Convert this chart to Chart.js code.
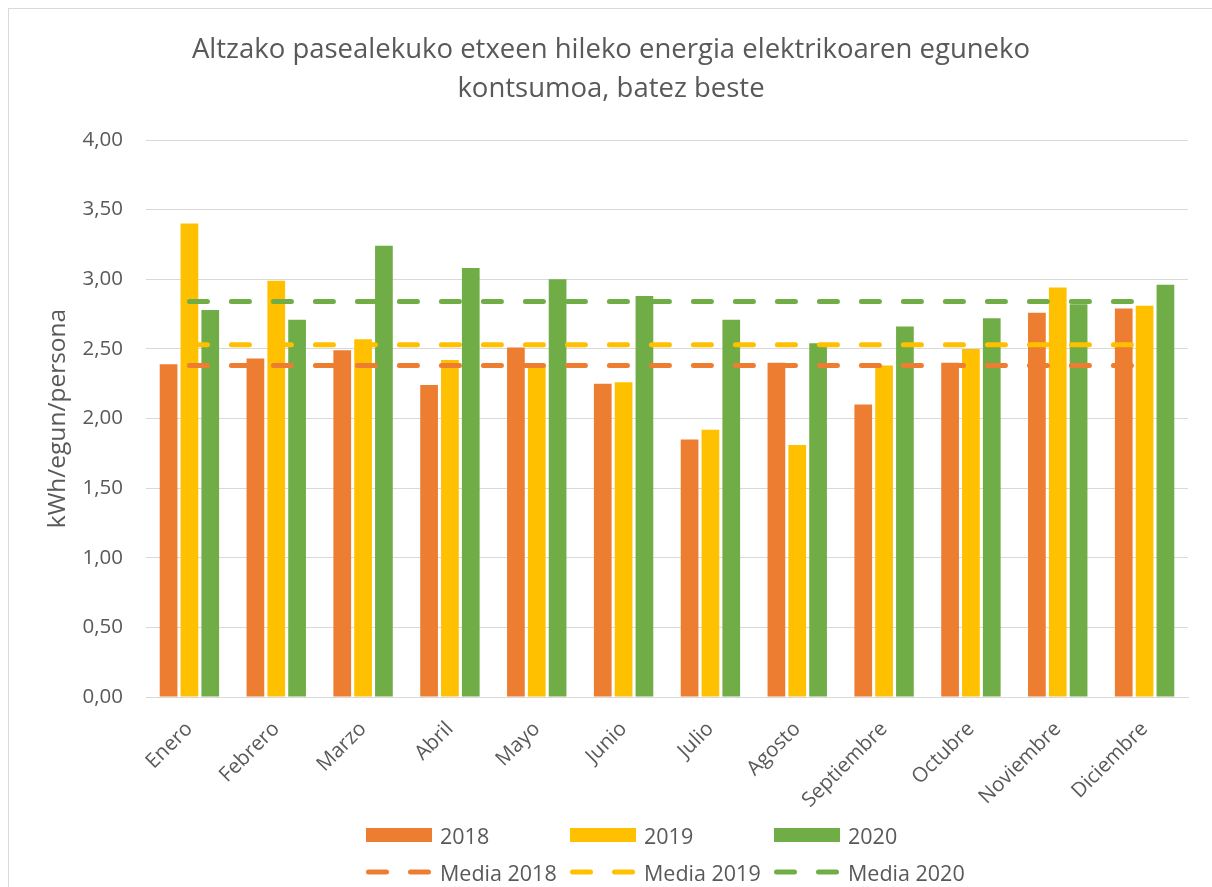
<!DOCTYPE html>
<html>
<head>
<meta charset="utf-8">
<script src="https://cdn.jsdelivr.net/npm/chart.js@4.4.1/dist/chart.umd.min.js"></script>
<style>
    body { margin: 0; background: #fff; width: 1212px; height: 887px; overflow: hidden; position: relative; font-family: "Open Sans", sans-serif; }
    .frame { position: absolute; left: 8px; top: 8px; width: 1300px; height: 1000px; border: 1px solid #d9d9d9; }
    .chart-box { position: absolute; left: 0; top: 0; width: 1212px; height: 887px; }
    .legend { position: absolute; left: 366px; top: 821px; display: grid; grid-template-columns: 204px 204px 204px; row-gap: 9px; }
    .legend-item { display: flex; align-items: center; height: 28px; color: #595959; font-size: 21.5px; }
    .legend-item .swatch { width: 66px; height: 14px; margin-right: 8px; flex: none; }
    .legend-item svg { width: 66px; height: 14px; margin-right: 8px; flex: none; }
</style>
</head>
<body>
<div class="frame"></div>
<div class="chart-box"><canvas id="energyChart"></canvas></div>
<div class="legend" id="legend"></div>

<script>
    // Data
    const months = ['Enero', 'Febrero', 'Marzo', 'Abril', 'Mayo', 'Junio', 'Julio', 'Agosto', 'Septiembre', 'Octubre', 'Noviembre', 'Diciembre'];
    const values2018 = [2.39, 2.43, 2.49, 2.24, 2.51, 2.25, 1.85, 2.40, 2.10, 2.40, 2.76, 2.79];
    const values2019 = [3.40, 2.99, 2.57, 2.42, 2.39, 2.26, 1.92, 1.81, 2.38, 2.50, 2.94, 2.81];
    const values2020 = [2.78, 2.71, 3.24, 3.08, 3.00, 2.88, 2.71, 2.54, 2.66, 2.72, 2.82, 2.96];
    const media2018 = [2.38, 2.38, 2.38, 2.38, 2.38, 2.38, 2.38, 2.38, 2.38, 2.38, 2.38, 2.38];
    const media2019 = [2.53, 2.53, 2.53, 2.53, 2.53, 2.53, 2.53, 2.53, 2.53, 2.53, 2.53, 2.53];
    const media2020 = [2.84, 2.84, 2.84, 2.84, 2.84, 2.84, 2.84, 2.84, 2.84, 2.84, 2.84, 2.84];
    const yTicks = [0, 0.5, 1, 1.5, 2, 2.5, 3, 3.5, 4];

    const orange = '#ED7D31';
    const yellow = '#FFC000';
    const green = '#70AD47';
    const textColor = '#595959';
    const gridColor = '#d9d9d9';
    const fontFamily = '"Open Sans", sans-serif';

    function barSet(label, data, color) {
        return {
            type: 'bar',
            label: label,
            data: data,
            backgroundColor: color,
            borderWidth: 0,
            categoryPercentage: 0.72,
            barPercentage: 0.85,
            order: 1
        };
    }

    function lineSet(label, data, color) {
        return {
            type: 'line',
            label: label,
            data: data,
            borderColor: color,
            backgroundColor: color,
            borderWidth: 5,
            borderDash: [18, 24],
            borderCapStyle: 'round',
            pointRadius: 0,
            fill: false,
            order: 0
        };
    }

    const datasets = [
        barSet('2018', values2018, orange),
        barSet('2019', values2019, yellow),
        barSet('2020', values2020, green),
        lineSet('Media 2018', media2018, orange),
        lineSet('Media 2019', media2019, yellow),
        lineSet('Media 2020', media2020, green)
    ];

    const ctx = document.getElementById('energyChart').getContext('2d');
    new Chart(ctx, {
        data: { labels: months, datasets: datasets },
        options: {
            responsive: true,
            maintainAspectRatio: false,
            animation: false,
            layout: { padding: { left: 10, right: 0, top: 0, bottom: 60 } },
            plugins: {
                legend: { display: false },
                tooltip: { enabled: false },
                title: {
                    display: true,
                    text: ['Altzako pasealekuko etxeen hileko energia elektrikoaren eguneko', 'kontsumoa, batez beste'],
                    color: textColor,
                    font: { family: fontFamily, size: 27.5, weight: 'normal', lineHeight: 1.4 },
                    padding: { top: 31, bottom: 32 }
                }
            },
            scales: {
                x: {
                    grid: { display: false, drawTicks: false },
                    border: { color: gridColor, width: 1 },
                    ticks: {
                        color: textColor,
                        font: { family: fontFamily, size: 20.5 },
                        minRotation: 45,
                        maxRotation: 45,
                        padding: 20
                    },
                    // tall enough that the rotated labels are not clipped
                    afterFit: function (scale) { scale.height = 130; }
                },
                y: {
                    min: 0,
                    max: 4,
                    afterBuildTicks: function (scale) {
                        scale.ticks = yTicks.map(v => ({ value: v }));
                    },
                    grid: { color: gridColor, lineWidth: 1, drawTicks: false },
                    border: { display: false },
                    ticks: {
                        color: textColor,
                        font: { family: fontFamily, size: 20.5 },
                        padding: 23,
                        callback: value => value.toFixed(2).replace('.', ',')
                    },
                    title: {
                        display: true,
                        text: 'kWh/egun/persona',
                        color: textColor,
                        font: { family: fontFamily, size: 24.5, weight: 'normal' },
                        padding: { top: 33, bottom: 0 }
                    },
                    afterFit: function (scale) { scale.width = 136; }
                },
                // empty right-hand axis, only keeps the plot area off the right edge
                spacer: {
                    type: 'linear',
                    position: 'right',
                    grid: { display: false, drawTicks: false },
                    border: { display: false },
                    ticks: { display: false },
                    afterFit: function (scale) { scale.width = 24; }
                }
            }
        }
    });

    // HTML legend: bars on the first row, average lines on the second
    const legendEl = document.getElementById('legend');
    datasets.forEach(ds => {
        const item = document.createElement('div');
        item.className = 'legend-item';
        if (ds.type === 'bar') {
            const sw = document.createElement('span');
            sw.className = 'swatch';
            sw.style.background = ds.backgroundColor;
            item.appendChild(sw);
        } else {
            item.innerHTML = '<svg viewBox="0 0 66 14"><line x1="2.5" y1="7" x2="63.5" y2="7" stroke="' + ds.borderColor +
                '" stroke-width="5" stroke-dasharray="18 24" stroke-linecap="round"/></svg>';
        }
        const label = document.createElement('span');
        label.textContent = ds.label;
        item.appendChild(label);
        legendEl.appendChild(item);
    });
</script>
</body>
</html>
